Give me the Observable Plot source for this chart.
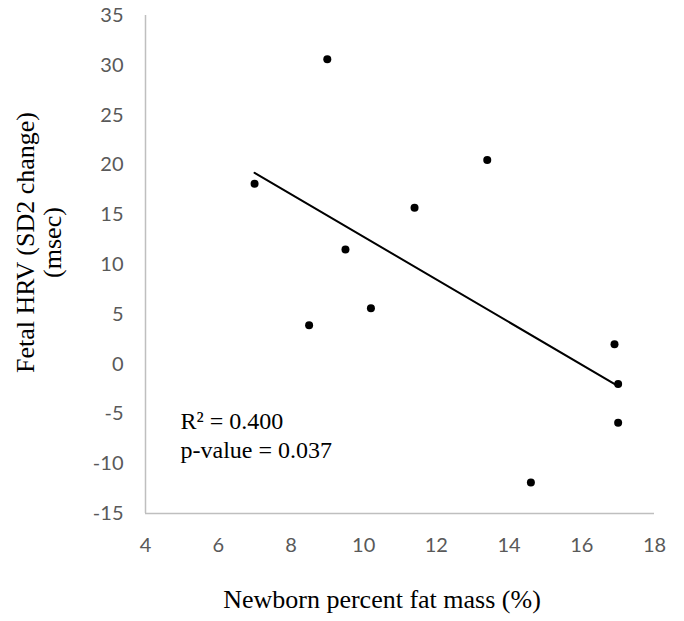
<!DOCTYPE html>
<html>
<head>
<meta charset="utf-8">
<script src="https://cdn.jsdelivr.net/npm/d3@7"></script>
<script src="https://cdn.jsdelivr.net/npm/@observablehq/plot@0.6"></script>
<style>
  html, body { margin: 0; padding: 0; background: #fff; }
  #chart { width: 684px; height: 621px; }
</style>
</head>
<body>
<div id="chart"></div>
<script>
// Newborn percent fat mass (%)
const fatMass = [7.0, 9.0, 13.4, 11.4, 9.5, 10.2, 8.5, 16.9, 17.0, 17.0, 14.6];
// Fetal HRV (SD2 change) (msec)
const hrvChange = [18.1, 30.6, 20.5, 15.7, 11.5, 5.6, 3.9, 2.0, -2.0, -5.9, -11.9];
const xTicks = [4, 6, 8, 10, 12, 14, 16, 18];
const yTicks = [-15, -10, -5, 0, 5, 10, 15, 20, 25, 30, 35];
const xTitle = "Newborn percent fat mass (%)";
const yTitle = "Fetal HRV (SD2 change)\n(msec)";
const statsText = "R\u00B2 = 0.400\np-value = 0.037";

const data = fatMass.map((x, i) => ({x, y: hrvChange[i]}));

const serif = "'Liberation Serif', 'Times New Roman', serif";
const sans = "Lato, 'Open Sans', sans-serif";
const fmt = d => String(d);

const chart = Plot.plot({
  width: 684,
  height: 621,
  marginLeft: 145,
  marginRight: 30,
  marginTop: 15,
  marginBottom: 108,
  style: {fontFamily: sans, fontSize: "20px", color: "#595959", background: "#fff"},
  x: {domain: [4, 18], ticks: xTicks},
  y: {domain: [-15, 35], ticks: yTicks},
  marks: [
    Plot.ruleX([4], {stroke: "#bfbfbf", strokeWidth: 1.5}),
    Plot.ruleY([-15], {stroke: "#bfbfbf", strokeWidth: 1.5}),
    Plot.axisX({ticks: xTicks, tickSize: 0, tickPadding: 24, tickFormat: fmt, fill: "#595959", label: null, fontSize: 20}),
    Plot.axisY({ticks: yTicks, tickSize: 0, tickPadding: 22, tickFormat: fmt, fill: "#595959", label: null, fontSize: 20}),
    Plot.linearRegressionY(data, {x: "x", y: "y", ci: 0, stroke: "#000", strokeWidth: 2}),
    Plot.dot(data, {x: "x", y: "y", r: 4, fill: "#000", stroke: "none"}),
    Plot.text([statsText], {frameAnchor: "top-left", dx: 35, dy: 394, lineAnchor: "top", lineHeight: 1.17,
      textAnchor: "start", fontFamily: serif, fontSize: 24, fill: "#000"}),
    Plot.text([xTitle], {frameAnchor: "bottom", dx: -18, dy: 76, lineAnchor: "top", fontFamily: serif, fontSize: 26, fill: "#000"}),
    Plot.text([yTitle], {frameAnchor: "left", dx: -107, dy: -22, rotate: -90, textAnchor: "middle", lineAnchor: "middle", lineHeight: 1.05,
      fontFamily: serif, fontSize: 26, fill: "#000"})
  ]
});
document.getElementById("chart").appendChild(chart);
</script>
</body>
</html>
